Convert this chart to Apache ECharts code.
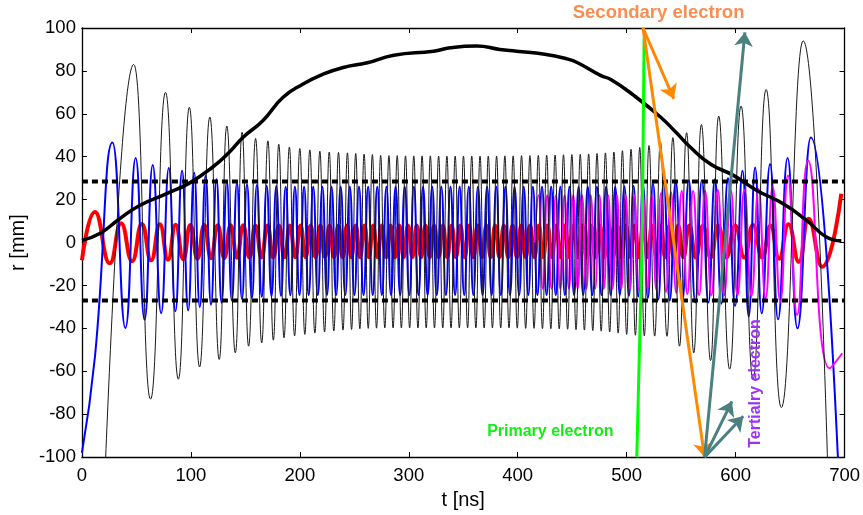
<!DOCTYPE html>
<html><head><meta charset="utf-8">
<script src="https://cdn.jsdelivr.net/npm/echarts@6/dist/echarts.min.js"></script>
<style>html,body{margin:0;padding:0;background:#fff}#c{width:863px;height:515px}</style>
</head><body><div id="c"></div>
<script>
// ---------- data: [t (ns), r (mm)] extrema of each orbit ----------
const blackThin = [[18,-150],[47.5,83],[63,-73],[76.7,70],[88.5,-63.7],[98.6,63],[108,-58],[117.4,58.5],[126,-54.5],[133,54.3],[140.8,-51.4],[147,51.4],[153,-48.3],[159.4,48.5],[165,-46.8],[170.7,47.4],[175.7,-45.5],[180.7,45.8],[185.5,-44.4],[190.4,44.5],[195.2,-43.5],[200,43.8],[204.6,-42.8],[209.2,43.2],[213.8,-42.2],[218.4,42.6],[222.7,-41.7],[227,42.2],[231.2,-41.2],[235.5,42],[239.6,-40.8],[243.7,41.8],[247.5,-40.5],[251.3,41.5],[255.1,-40.2],[259,41.2],[262.8,-40],[266.6,41],[270.4,-39.9],[274.2,40.6],[278,-39.8],[281.8,40.5],[285.6,-39.8],[289.4,40.5],[293.2,-39.8],[297,40.4],[300.8,-39.8],[304.6,40.4],[308.4,-39.8],[312.2,40.4],[316,-39.8],[319.8,40.4],[323.6,-39.8],[327.4,40.3],[331.2,-39.8],[335,40.3],[338.8,-39.8],[342.6,40.3],[346.4,-39.8],[350.2,40.3],[354,-39.8],[357.8,40.3],[361.6,-39.8],[365.4,40.3],[369.2,-39.8],[373,40.3],[376.8,-39.8],[380.6,40.3],[384.4,-39.8],[388.2,40.4],[392,-39.8],[395.8,40.4],[399.6,-39.9],[403.5,40.5],[407.3,-40],[411.2,40.5],[415,-40],[418.9,40.6],[422.7,-40.1],[426.6,40.7],[430.4,-40.2],[434.3,40.8],[438.1,-40.3],[442,40.9],[445.8,-40.4],[449.7,41],[453.5,-40.6],[457.4,41.1],[461.2,-40.8],[465.1,41.3],[468.9,-41],[472.8,41.5],[476.6,-41.3],[480.5,41.8],[484.4,-41.7],[488.3,42.2],[492.2,-42.2],[496.1,42.8],[500,-42.8],[504,43.5],[508,-43.2],[512,44.3],[516.2,-43.5],[520.5,45.2],[525.7,-43.6],[531,46.8],[537,-43.7],[542.4,48.9],[548.5,-48.3],[555,51.2],[561.6,-51.4],[568.6,55],[577,-55],[584.5,58.9],[594.5,-59],[605,63.6],[616,-63.7],[628,71.3],[642,-76.9],[662,94],[687,-150]];

const blue = [[0,-98],[12,-53],[28,46.6],[39.9,-39.8],[49.3,39.4],[57.5,-36],[65,36.1],[72.7,-32.9],[79.7,34.7],[85.8,-32],[91.9,33.5],[97.5,-31.6],[103,32.5],[108.2,-30],[113.5,31],[118.5,-29],[123.5,29.5],[128.2,-28],[133,28.5],[137.6,-27],[142.3,27.8],[146.9,-26.3],[151.5,27.2],[156,-25.8],[160.6,26.8],[165.1,-25.3],[169.6,26.5],[174,-25],[178.4,26.3],[182.7,-24.8],[187,26],[191.3,-24.6],
 [195.5,26],[199.7,-24.5],[203.9,26],[208.1,-24.5],[212.3,26],[216.5,-24.5],[220.7,26],[224.9,-24.5],[229.1,26],[233.3,-24.5],[237.5,26],[241.7,-24.5],[245.9,26],[250.1,-24.5],[254.3,26],[258.5,-24.5],[262.7,26],[266.9,-24.5],[271.1,26],[275.3,-24.5],[279.5,26],[283.7,-24.5],[287.9,26],[292.1,-24.5],[296.3,26],[300.5,-24.5],[304.7,26],[308.9,-24.5],[313.1,26],[317.3,-24.5],[321.5,26],[325.7,-24.5],[329.9,26],[334.1,-24.5],[338.3,26],[342.5,-24.5],[346.7,26],[350.9,-24.5],[355.1,26],[359.3,-24.5],[363.5,26],[367.7,-24.5],[371.9,26],[376.1,-24.5],[380.3,26],[384.5,-24.5],[388.7,26],[392.9,-24.5],[397.1,26],[401.3,-24.5],[405.5,26],[409.7,-24.5],[413.9,26],[418.1,-24.5],[422.3,26],[426.5,-24.5],[430.7,26],[434.9,-24.5],[439.1,26],[443.3,-24.5],[447.5,26],[451.7,-24.5],[455.9,26],[460.1,-24.5],[464.3,26],[468.5,-24.5],[472.7,26],[476.9,-24.5],[481.1,26],[485.3,-24.5],[489.5,26],[493.7,-24.5],
 [497.9,26.2],[502.1,-24.8],[506.3,26.5],[510.6,-25.2],[515,27],[519.5,-25.8],[524.2,27.5],[529,-26.5],[534,28],[539.5,-27],[545,28.5],[551,-27.5],[557,29],[563,-28],[569,29],[575,-28],[581,29.5],[587,-28.5],[593,30],[599.5,-29.5],[606.3,33.5],[612,-34.5],[617.9,35],[624,-33],[631.6,36.6],[639,-35.8],[647.7,39.4],[656.8,-40],[669,49],[701,-190]];

const red = [[0,-8.2],[11.9,14.2],[25.6,-9.7],[36,9],[46,-8.7],[55,8.7],[63.5,-8.3],[71.5,8.5],[79,-8],[86,8.3],[93,-7.8],[99.5,8.2],[106,-7.5],[112.3,8.2],[118.5,-7.3],[124.6,8.1],[130.6,-7.2],[136.5,8.1],[142.3,-7.1],[148,8.1],[153.7,-7],[159.3,8],[164.8,-7],[170.3,8],[175.6,-6.9],[180.8,8],[185.9,-6.8],[190.9,8],[195.8,-6.8],[200.6,8],[205.3,-6.8],[209.9,8],[214.4,-6.8],[218.8,8],[223.1,-6.8],[227.3,8],
 [231.3,-6.8],[235.3,8],[239.3,-6.8],[243.3,8],[247.3,-6.8],[251.3,8],[255.3,-6.8],[259.3,8],[263.3,-6.8],[267.3,8],[271.3,-6.8],[275.3,8],[279.3,-6.8],[283.3,8],[287.3,-6.8],[291.3,8],[295.3,-6.8],[299.3,8],[303.3,-6.8],[307.3,8],[311.3,-6.8],[315.3,8],[319.3,-6.8],[323.3,8],[327.3,-6.8],[331.3,8],[335.3,-6.8],[339.3,8],[343.3,-6.8],[347.3,8],[351.3,-6.8],[355.3,8],[359.3,-6.8],[363.3,8],[367.3,-6.8],[371.3,8],[375.3,-6.8],[379.3,8],[383.3,-6.8],[387.3,8],[391.3,-6.8],[395.3,8],[399.3,-6.8],[403.3,8],[407.3,-6.8],[411.3,8],[415.3,-6.8],[419.3,8],[423.3,-6.8],[427.3,8],[431.3,-6.8],[435.3,8],[439.3,-6.8],[443.3,8],[447.3,-6.8],[451.3,8],[455.3,-6.8],[459.3,8],[463.3,-6.8],[467.3,8],[471.3,-6.8],[475.3,8],[479.3,-6.8],[483.3,8],[487.3,-6.8],[491.3,8],[495.3,-6.8],[499.3,8],[503.3,-6.8],[507.3,8],[511.3,-6.8],[515.3,8],[519.3,-6.8],[523.3,8],[527.3,-6.8],[531.3,8],[535.3,-6.8],[539.3,8],[543.3,-6.8],[547.3,8],
 [552,-6.9],[557.5,8],[563.5,-7],[570,8],[577,-7],[584,8],[591.5,-7],[599.5,8],[608,-7],[616,8.2],[624.5,-7],[632,8],[640,-7.5],[648.5,8.5],[658,-9],[667,11.1],[679.5,-11.3],[697,22.7]];

const magenta = [[415.6,0],[419,22],[423,-21.5],[427,22],[431,-21.5],[435,22],[439,-21.5],[443,22],[447,-21.5],[451,22],[455,-21.5],[459,22],[463,-21.5],[467,22],[471,-21.5],[475,22],[479,-21.5],[483,22],[487,-21.5],[491,22],[495,-21.5],[499,22],[503,-21.5],[507,22],[511,-21.5],[515,22],[519,-21.5],[523,22],
 [527.2,-22],[531.5,23],[536,-23],[540.7,23.5],[545.5,-23.5],[550.5,24],[555.7,-24],[561,24],[566.5,-24.5],[572,24],[577.8,-24.5],[583.6,24.5],[589.5,-24.5],[595.5,24.5],[601.7,-24.5],[608,24.5],[614.5,-25],[621,25],[627.5,-26],[634,26],[641,-27.5],
 [648,31.3],[656.5,-33.7],[666.5,38.3],[686.3,-58.6],[697.9,-51.6]];

const envelope = [[0,1],[16.4,4.2],[34.7,11.1],[53,17.3],[77.3,22.7],[98.6,27.7],[119.8,35.1],[135,42],[147.8,49],[166,56.8],[184.4,67.6],[202.6,73.8],[220.9,78.4],[239,81.5],[262,83.8],[286.3,87.3],[322.8,89.2],[338,90.8],[362.3,91.6],[383.6,90],[398.8,89.2],[424.7,87.8],[446,85.5],[455,83.8],[476.4,77.8],[485.5,76],[506.8,68.5],[531,58.5],[545,51.5],[558.5,44.4],[576.8,36.6],[598,31.3],[619.4,24.3],[643.7,18.1],[665,10.4],[683.3,2.6],[697,0.8]];

const wallTop = [[0,28.5],[700,28.5]];
const wallBottom = [[0,-27],[700,-27]];

const primary = [[509.3,-100],[512.3,-37.6],[514.4,8.8],[516,95.5]];

// arrows: [t0, r0, t1, r1]
const orangeArrows = [[515,100,571.5,-100],[515,100,543.3,67]];
const tealArrows = [[571.5,-100,608.5,98],[571.5,-100,596.6,-74],[571.5,-100,607,-81]];

// annotations: text and anchor (data coords)
const noteText = ['Secondary electron','Primary electron','Tertialry electron'];
const noteAt = [[529.3,106.9],[429.9,-88],[617.9,-65.7]];

const xTicks = {min:0,max:700,step:100};
const yTicks = {min:-100,max:100,step:20};

// ---------- chart ----------
const FONT = 'Arial, "Liberation Sans", sans-serif';
const chart = echarts.init(document.getElementById('c'), null, {renderer:'canvas'});

function lineSeries(data, color, width, z, extra) {
  return Object.assign({type:'line', data, showSymbol:false, symbol:'none', smooth:0.5,
    lineStyle:{color, width}, z, silent:true, animation:false, clip:true}, extra||{});
}
const axisCommon = {
  axisLine:{show:true, onZero:false, lineStyle:{color:'#000', width:1.3}},
  axisTick:{show:true, inside:true, length:5, lineStyle:{color:'#000', width:1}},
  splitLine:{show:false}
};
const labelStyle = {color:'#000', fontSize:18.5, fontFamily:FONT};
const arrowsData = (arr) => arr.map(a => ({coords:[[a[0],a[1]],[a[2],a[3]]]}));
const dotted = {smooth:false, lineStyle:{color:'#000', width:4, type:[6,4]}};

chart.setOption({
  animation:false,
  backgroundColor:'#fff',
  grid:{left:78, right:18, top:28, bottom:55, containLabel:false},
  xAxis:[
    Object.assign({type:'value', min:xTicks.min, max:xTicks.max, interval:xTicks.step, position:'bottom',
      axisLabel:Object.assign({margin:9}, labelStyle),
      name:'t [ns]', nameLocation:'middle', nameGap:28,
      nameTextStyle:{color:'#000', fontSize:20, fontFamily:FONT}}, axisCommon),
    Object.assign({type:'value', min:xTicks.min, max:xTicks.max, interval:xTicks.step, position:'top',
      axisLabel:{show:false}}, axisCommon)
  ],
  yAxis:[
    Object.assign({type:'value', min:yTicks.min, max:yTicks.max, interval:yTicks.step, position:'left',
      axisLabel:Object.assign({margin:6}, labelStyle),
      name:'r [mm]', nameLocation:'middle', nameGap:43, nameRotate:90,
      nameTextStyle:{color:'#000', fontSize:20, fontFamily:FONT}}, axisCommon),
    Object.assign({type:'value', min:yTicks.min, max:yTicks.max, interval:yTicks.step, position:'right',
      axisLabel:{show:false}}, axisCommon)
  ],
  series:[
    lineSeries(red, '#ff0000', 4, 2),
    lineSeries(blue, '#0000ff', 2, 3),
    lineSeries(magenta, '#ff00ff', 2, 4),
    lineSeries(blackThin, '#1a1a1a', 1, 5),
    lineSeries(envelope, '#000000', 3.5, 6),
    lineSeries(wallTop, '#000', 4, 7, dotted),
    lineSeries(wallBottom, '#000', 4, 7, dotted),
    lineSeries(primary, '#00ff00', 3, 8),
    {type:'lines', coordinateSystem:'cartesian2d', z:9, silent:true, animation:false,
      symbol:['none','arrow'], symbolSize:14,
      lineStyle:{color:'#ff8800', width:3, opacity:1, curveness:0},
      data:arrowsData(orangeArrows)},
    {type:'lines', coordinateSystem:'cartesian2d', z:9, silent:true, animation:false,
      symbol:['none','arrow'], symbolSize:14,
      lineStyle:{color:'#4a8080', width:3, opacity:1, curveness:0},
      data:arrowsData(tealArrows)}
  ]
});

// annotation texts, placed through the grid's own coordinate conversion
const noteStyle = [
  {fill:'#f98e50', fontSize:18.5, rotation:0},
  {fill:'#11ee11', fontSize:16, rotation:0},
  {fill:'#9a33f5', fontSize:16, rotation:Math.PI/2}
];
const graphics = noteText.map((txt,i) => {
  const p = chart.convertToPixel({gridIndex:0}, noteAt[i]);
  return {type:'text', x:p[0], y:p[1], rotation:noteStyle[i].rotation, z:20, silent:true,
    style:{text:txt, fill:noteStyle[i].fill, font:'bold ' + noteStyle[i].fontSize + 'px ' + FONT,
      align:'center', verticalAlign:'middle'}};
});
chart.setOption({graphic:graphics});
</script>
</body></html>
